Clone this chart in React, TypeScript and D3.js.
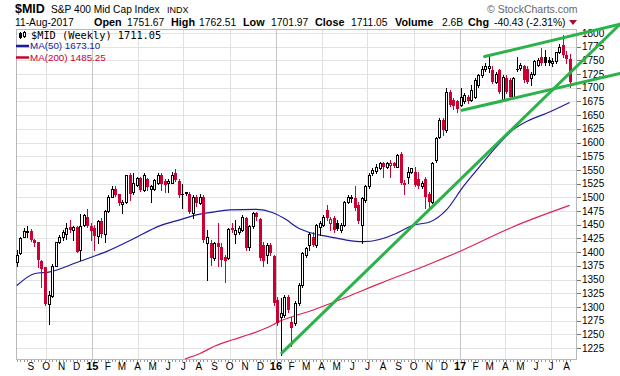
import React from "react";
import * as d3 from "d3";

// ---------- data ----------
const weekStart = "2014-08-04";

const opens = [
  1382, 1398, 1428, 1436, 1439, 1422, 1418, 1383, 1372, 1305,
  1320, 1375, 1418, 1428, 1433, 1445, 1440, 1445, 1403, 1450,
  1465, 1448, 1444, 1430, 1456, 1434, 1475, 1501, 1516, 1506,
  1487, 1491, 1541, 1510, 1523, 1535, 1513, 1533, 1515, 1516,
  1526, 1540, 1530, 1526, 1527, 1544, 1530, 1507, 1509, 1507,
  1472, 1501, 1490, 1501, 1416, 1416, 1389, 1416, 1410, 1392,
  1389, 1444, 1434, 1437, 1440, 1462, 1410, 1447, 1471, 1460,
  1413, 1395, 1413, 1393, 1313, 1282, 1285, 1319, 1273, 1270,
  1307, 1340, 1395, 1413, 1428, 1413, 1445, 1450, 1477, 1453,
  1462, 1453, 1440, 1450, 1492, 1498, 1498, 1486, 1450, 1495,
  1520, 1544, 1548, 1553, 1562, 1556, 1559, 1562, 1556, 1580,
  1527, 1538, 1547, 1547, 1533, 1520, 1533, 1507, 1492, 1568,
  1611, 1641, 1623, 1693, 1678, 1675, 1669, 1675, 1684, 1678,
  1684, 1705, 1723, 1734, 1736, 1732, 1711, 1732, 1678, 1717,
  1714, 1684, 1734, 1736, 1739, 1735, 1717, 1726, 1742, 1757,
  1757, 1751, 1746, 1748, 1766, 1778, 1760, 1751.67,
];
const highs = [
  1404, 1428, 1444, 1448, 1442, 1424, 1419, 1385, 1373, 1329,
  1378, 1419, 1431, 1440, 1453, 1459, 1448, 1448, 1470, 1470,
  1479, 1453, 1450, 1459, 1462, 1477, 1504, 1520, 1521, 1507,
  1495, 1541, 1544, 1544, 1537, 1538, 1544, 1535, 1523, 1533,
  1544, 1544, 1533, 1533, 1547, 1551, 1533, 1524, 1510, 1510,
  1504, 1505, 1507, 1504, 1440, 1422, 1419, 1454, 1416, 1395,
  1444, 1453, 1459, 1447, 1468, 1465, 1450, 1474, 1474, 1462,
  1419, 1416, 1416, 1395, 1319, 1316, 1322, 1322, 1282, 1310,
  1343, 1401, 1410, 1437, 1437, 1451, 1456, 1468, 1486, 1465,
  1466, 1459, 1454, 1494, 1504, 1504, 1520, 1492, 1501, 1523,
  1544, 1553, 1560, 1565, 1565, 1565, 1568, 1565, 1580, 1582,
  1532, 1556, 1553, 1556, 1547, 1529, 1538, 1510, 1565, 1611,
  1644, 1644, 1699, 1696, 1681, 1678, 1699, 1690, 1687, 1705,
  1717, 1726, 1739, 1745, 1761, 1739, 1729, 1735, 1723, 1723,
  1717, 1720, 1757, 1745, 1742, 1739, 1729, 1751, 1754, 1772,
  1769, 1757, 1754, 1766, 1780, 1796, 1768, 1762.51,
];
const lows = [
  1374, 1397, 1427, 1428, 1421, 1412, 1372, 1336, 1304, 1269,
  1319, 1374, 1416, 1422, 1424, 1437, 1422, 1400, 1385, 1448,
  1445, 1422, 1404, 1416, 1428, 1419, 1474, 1500, 1502, 1486,
  1471, 1489, 1495, 1507, 1520, 1512, 1512, 1513, 1491, 1513,
  1524, 1513, 1510, 1509, 1526, 1529, 1501, 1480, 1504, 1472,
  1462, 1485, 1488, 1419, 1349, 1377, 1386, 1374, 1374, 1346,
  1387, 1437, 1416, 1434, 1439, 1404, 1404, 1444, 1459, 1386,
  1374, 1380, 1395, 1304, 1267, 1212, 1282, 1291, 1228, 1267,
  1304, 1337, 1392, 1404, 1411, 1410, 1431, 1447, 1459, 1440,
  1437, 1440, 1437, 1447, 1489, 1492, 1477, 1453, 1416, 1492,
  1517, 1541, 1545, 1551, 1538, 1553, 1538, 1556, 1555, 1524,
  1507, 1526, 1544, 1520, 1517, 1517, 1480, 1477, 1490, 1565,
  1608, 1614, 1620, 1666, 1662, 1656, 1667, 1672, 1672, 1675,
  1681, 1702, 1720, 1731, 1729, 1708, 1708, 1690, 1675, 1690,
  1681, 1681, 1731, 1732, 1711, 1708, 1705, 1723, 1739, 1742,
  1742, 1742, 1739, 1745, 1763, 1757, 1745, 1701.97,
];
const closes = [
  1395, 1425, 1439, 1439, 1422, 1416, 1385, 1370, 1305, 1322,
  1375, 1418, 1428, 1436, 1444, 1440, 1445, 1401, 1448, 1468,
  1448, 1439, 1430, 1456, 1434, 1475, 1501, 1516, 1504, 1489,
  1491, 1540, 1507, 1526, 1535, 1513, 1541, 1518, 1520, 1532,
  1541, 1524, 1523, 1530, 1541, 1532, 1504, 1504, 1507, 1474,
  1501, 1490, 1501, 1422, 1428, 1389, 1416, 1410, 1386, 1383,
  1442, 1440, 1440, 1444, 1464, 1407, 1447, 1471, 1464, 1389,
  1383, 1413, 1398, 1307, 1270, 1288, 1319, 1295, 1261, 1307,
  1340, 1398, 1407, 1434, 1413, 1450, 1453, 1465, 1462, 1460,
  1440, 1442, 1450, 1492, 1501, 1501, 1480, 1456, 1498, 1520,
  1541, 1550, 1556, 1562, 1556, 1563, 1562, 1558, 1577, 1526,
  1523, 1547, 1553, 1523, 1520, 1526, 1501, 1492, 1563, 1608,
  1641, 1623, 1693, 1669, 1666, 1662, 1684, 1687, 1675, 1696,
  1714, 1723, 1735, 1739, 1739, 1711, 1726, 1693, 1720, 1693,
  1684, 1717, 1732, 1742, 1714, 1711, 1726, 1748, 1751, 1745,
  1745, 1745, 1749, 1766, 1775, 1760, 1752, 1711.05,
];

const ma50Dates = [
  "2014-08-04", "2014-09-09", "2014-10-09", "2014-12-01", "2015-01-03",
  "2015-01-29", "2015-03-23", "2015-05-15", "2015-06-24", "2015-07-27",
  "2015-08-29", "2015-10-01", "2015-11-23", "2015-12-26", "2016-01-22",
  "2016-02-11", "2016-03-15", "2016-04-17", "2016-05-20", "2016-06-22",
  "2016-07-25", "2016-08-27", "2016-09-29", "2016-11-02", "2016-12-05",
  "2017-01-07", "2017-02-09", "2017-03-14", "2017-04-16", "2017-05-19",
  "2017-06-21", "2017-08-07",
];
const ma50Values = [
  1339, 1361, 1364, 1381, 1392, 1401, 1424, 1448, 1459, 1468,
  1473, 1477, 1478, 1472, 1459, 1446, 1434, 1428, 1422, 1419,
  1423, 1434, 1449, 1455, 1477, 1519, 1556, 1592, 1623, 1641,
  1653, 1673.1,
];
const ma200Dates = [
  "2015-07-04", "2015-08-03", "2015-09-03", "2015-10-07", "2015-11-10",
  "2015-12-14", "2016-01-09", "2016-03-14", "2016-05-21", "2016-07-26",
  "2016-10-13", "2017-01-07", "2017-04-16", "2017-08-07",
];
const ma200Values = [
  1205, 1215, 1229, 1240, 1250, 1262, 1274, 1294, 1318, 1343,
  1371, 1404, 1446, 1485.25,
];

const trendStartDates = ["2016-01-13", "2017-02-19", "2017-01-05"];
const trendStartValues = [1216, 1757, 1659];
const trendEndDates = ["2017-11-15", "2017-11-15", "2017-11-15"];
const trendEndValues = [1816, 1816, 1726];

const yTickValues = [
  1225, 1250, 1275, 1300, 1325, 1350, 1375, 1400, 1425, 1450, 1475, 1500,
  1525, 1550, 1575, 1600, 1625, 1650, 1675, 1700, 1725, 1750, 1775, 1800,
];
const monthLabels = [
  "S", "O", "N", "D",
  "15", "F", "M", "A", "M", "J", "J", "A", "S", "O", "N", "D",
  "16", "F", "M", "A", "M", "J", "J", "A", "S", "O", "N", "D",
  "17", "F", "M", "A", "M", "J", "J", "A",
];

// ---------- chart ----------
const FONT = "'Liberation Sans', Arial, Helvetica, sans-serif";
const RED = "#cc0033";
const BLUE = "#1b1b9c";
const MA200C = "#dc2452";
const GREEN = "#2cb24b";

export default function App() {
  const parse = d3.timeParse("%Y-%m-%d");
  const start = parse(weekStart) as Date;

  const L = 16, R = 577, T = 29, B = 360;
  const x = d3
    .scaleTime()
    .domain([new Date(2015, 0, 1), new Date(2017, 0, 1)])
    .range([92.3, 460]);
  const y = d3.scaleLinear().domain([1225, 1800]).range([348, 33]);

  const candles = closes.map((c, i) => ({
    date: d3.timeDay.offset(start, 7 * i),
    o: opens[i],
    h: highs[i],
    l: lows[i],
    c,
  }));

  const months = d3.timeMonth.range(new Date(2014, 8, 1), new Date(2017, 8, 2));
  const gridMonths = d3
    .timeMonth.range(new Date(2014, 7, 1), new Date(2017, 8, 2))
    .filter((d) => d.getMonth() % 3 === 0);

  const line = d3
    .line<[Date, number]>()
    .x((d) => x(d[0]))
    .y((d) => y(d[1]))
    .curve(d3.curveMonotoneX);
  const ma50Path = line(ma50Dates.map((d, i) => [parse(d) as Date, ma50Values[i]]));
  const ma200Path = line(ma200Dates.map((d, i) => [parse(d) as Date, ma200Values[i]]));

  return (
    <svg
      width={620}
      height={376}
      viewBox="0 0 620 376"
      style={{ position: "absolute", left: 0, top: 0, display: "block", background: "#fff" }}
      fontFamily={FONT}
    >
      <defs>
        <clipPath id="plotClip">
          <rect x={L} y={T} width={R - L} height={B - T} />
        </clipPath>
      </defs>
      <rect x={0} y={0} width={620} height={376} fill="#fff" />

      {/* header */}
      <text x={15} y={13} fontSize={12.5} fontWeight="bold" fill="#000">$MID</text>
      <text x={51} y={13} fontSize={10.2} fill="#000">S&amp;P 400 Mid Cap Index</text>
      <text x={167} y={13} fontSize={9} fill="#000">INDX</text>
      <text x={487} y={13} fontSize={10.5} fill="#666">© StockCharts.com</text>

      <text x={15} y={26} fontSize={10.3} fill="#000">11-Aug-2017</text>
      <text x={94} y={26} fontSize={10.8} fontWeight="bold" fill="#000">Open</text>
      <text x={127} y={26} fontSize={10.3} fill="#000">1751.67</text>
      <text x={171} y={26} fontSize={10.8} fontWeight="bold" fill="#000">High</text>
      <text x={199} y={26} fontSize={10.3} fill="#000">1762.51</text>
      <text x={243} y={26} fontSize={10.8} fontWeight="bold" fill="#000">Low</text>
      <text x={271} y={26} fontSize={10.3} fill="#000">1701.97</text>
      <text x={315} y={26} fontSize={10.8} fontWeight="bold" fill="#000">Close</text>
      <text x={351} y={26} fontSize={10.3} fill="#000">1711.05</text>
      <text x={395} y={26} fontSize={10.8} fontWeight="bold" fill="#000">Volume</text>
      <text x={442} y={26} fontSize={10.3} fill="#000">2.6B</text>
      <text x={468} y={26} fontSize={10.8} fontWeight="bold" fill="#000">Chg</text>
      <text x={494} y={26} fontSize={10.3} fill="#000">-40.43 (-2.31%)</text>
      <polygon points="569,20 577,20 573,25" fill="#a0103a" />

      {/* grid */}
      {yTickValues.map((v) => (
        <line key={"hg" + v} x1={L} x2={R} y1={Math.round(y(v)) + 0.5} y2={Math.round(y(v)) + 0.5} stroke="#e3e3e3" strokeWidth={1} />
      ))}
      {gridMonths.map((d) => {
        const xx = Math.round(x(d)) + 0.5;
        if (xx < L || xx > R) return null;
        return (
          <line
            key={"vg" + d.getTime()}
            x1={xx}
            x2={xx}
            y1={T}
            y2={B}
            stroke={d.getMonth() === 0 ? "#c4c4c4" : "#e0e0e0"}
            strokeWidth={1}
          />
        );
      })}

      {/* frame */}
      <rect x={L + 0.5} y={T + 0.5} width={R - L - 1} height={B - T - 1} fill="none" stroke="#b8b8b8" strokeWidth={1} />

      {/* y axis ticks & labels */}
      {yTickValues.map((v) => (
        <g key={"yt" + v}>
          <line x1={R} x2={R + 4} y1={Math.round(y(v)) + 0.5} y2={Math.round(y(v)) + 0.5} stroke="#777" />
          <text x={R + 5} y={y(v)} dy="0.36em" fontSize={10} fill="#000">{v}</text>
        </g>
      ))}

      {/* x axis weekly ticks */}
      {candles.map((d, i) => (
        <line key={"xt" + i} x1={Math.round(x(d.date)) + 0.5} x2={Math.round(x(d.date)) + 0.5} y1={B} y2={B + 2} stroke="#999" />
      ))}
      {months.map((d, i) => {
        const lab = monthLabels[i];
        const isYear = /\d/.test(lab);
        return (
          <text
            key={"ml" + i}
            x={x(d)}
            y={370}
            textAnchor="middle"
            fontSize={isYear ? 11 : 10}
            fontWeight={isYear ? "bold" : "normal"}
            fill="#000"
          >
            {lab}
          </text>
        );
      })}

      {/* MA lines */}
      <g clipPath="url(#plotClip)">
        <path d={ma200Path || ""} fill="none" stroke={MA200C} strokeWidth={1.2} />
        <path d={ma50Path || ""} fill="none" stroke={BLUE} strokeWidth={1.2} />
      </g>

      {/* candles */}
      <g clipPath="url(#plotClip)">
        {candles.map((d, i) => {
          const cx = Math.round(x(d.date));
          const prev = i > 0 ? closes[i - 1] : d.o;
          const col = d.c < prev ? RED : "#000";
          const yo = Math.round(y(d.o));
          const yc = Math.round(y(d.c));
          const yh = Math.round(y(d.h));
          const yl = Math.round(y(d.l));
          const top = Math.min(yo, yc);
          const bot = Math.max(yo, yc);
          const hollow = d.c >= d.o;
          return (
            <g key={"c" + i}>
              <line x1={cx + 0.5} x2={cx + 0.5} y1={yh} y2={yl + 1} stroke={col} strokeWidth={1} />
              {hollow ? (
                <rect x={cx - 0.5} y={top + 0.5} width={2} height={Math.max(bot - top, 1)} fill="#fff" stroke={col} strokeWidth={1} />
              ) : (
                <rect x={cx - 1} y={top} width={3} height={Math.max(bot - top, 1)} fill={col} />
              )}
            </g>
          );
        })}
      </g>

      {/* legend */}
      <g>
        <line x1={20.5} x2={20.5} y1={32} y2={39} stroke="#000" />
        <rect x={19.5} y={33.5} width={2} height={4} fill="#000" stroke="#000" />
        <line x1={24.5} x2={24.5} y1={31} y2={38} stroke="#000" />
        <rect x={23.5} y={32.5} width={2} height={4} fill="#fff" stroke="#000" />
        <text x={31} y={38.5} fontSize={10.3} fontFamily="'DejaVu Sans Mono', monospace" fill="#000">$MID (Weekly) 1711.05</text>
        <line x1={16} x2={29} y1={46} y2={46} stroke={BLUE} strokeWidth={2.5} />
        <text x={30} y={49} fontSize={9.8} fill={BLUE}>MA(50) 1673.10</text>
        <line x1={16} x2={29} y1={57.5} y2={57.5} stroke={RED} strokeWidth={2.5} />
        <text x={30} y={61} fontSize={9.8} fill={RED}>MA(200) 1485.25</text>
      </g>

      {/* trendlines */}
      {trendStartDates.map((s, i) => (
        <line
          key={"tl" + i}
          x1={x(parse(s) as Date)}
          y1={y(trendStartValues[i])}
          x2={x(parse(trendEndDates[i]) as Date)}
          y2={y(trendEndValues[i])}
          stroke={GREEN}
          strokeWidth={3}
          strokeLinecap="round"
        />
      ))}
    </svg>
  );
}
